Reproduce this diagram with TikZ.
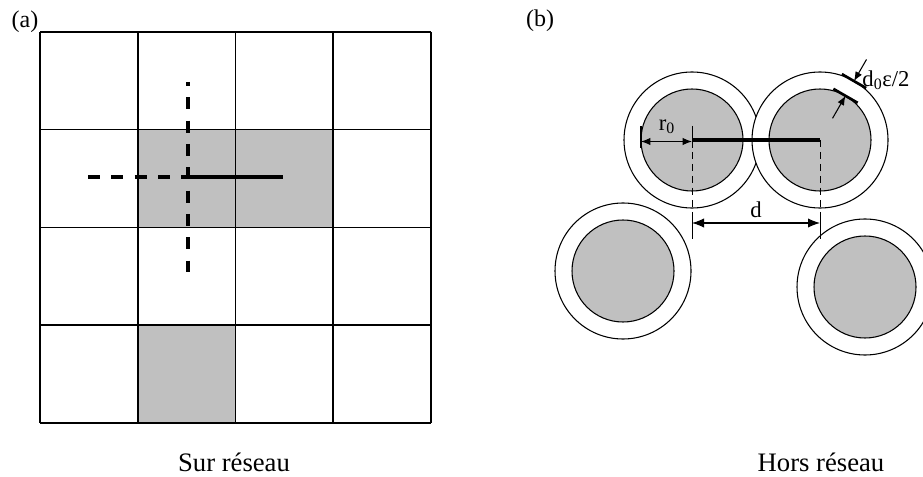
\documentclass[tikz,border=0pt]{standalone}
\usepackage{fontspec}
\setmainfont{Liberation Serif}
\usetikzlibrary{arrows.meta,calc}

\definecolor{cellgray}{RGB}{192,192,192}

\tikzset{
  gridline/.style={line width=1.2pt, black},
  dashguide/.style={line width=2.4pt, dash pattern=on 9pt off 8.5pt},
  bond/.style={line width=3.3pt},
  ring/.style={line width=0.8pt, fill=white},
  core/.style={line width=0.8pt, fill=cellgray},
  thinguide/.style={line width=0.7pt, dash pattern=on 5.5pt off 3.5pt},
  ext/.style={line width=0.7pt},
  dimarrow/.style={line width=0.8pt, {Latex[length=9pt,width=7pt]}-{Latex[length=9pt,width=7pt]}},
  smallarrow/.style={line width=0.8pt, {Latex[length=7pt,width=5.5pt]}-{Latex[length=7pt,width=5.5pt]}},
  radarrow/.style={line width=0.8pt, -{Latex[length=7pt,width=5.5pt]}},
  tick/.style={line width=2pt},
  lbl/.style={font=\fontsize{17}{19}\selectfont, inner sep=0pt},
  caption/.style={font=\fontsize{20}{23}\selectfont, inner sep=0pt},
  panel/.style={font=\fontsize{18}{21}\selectfont, inner sep=0pt}
}

\begin{document}
\begin{tikzpicture}[x=0.75pt, y=-0.75pt]
\useasboundingbox (0,0) rectangle (923,477);
\clip (0,0) rectangle (923,477);

% ---------- (a) lattice ----------
\fill[cellgray] (137.7,129.7) rectangle (333.1,227.4);
\fill[cellgray] (137.7,325.1) rectangle (235.4,422.8);
\foreach \i in {0,...,4} {
  \draw[gridline] ({40+97.7*\i},32) -- ({40+97.7*\i},422.8);
  \draw[gridline] (40,{32+97.7*\i}) -- (430.8,{32+97.7*\i});
}

\coordinate (site) at (188,177);
\coordinate (bondend) at (283,177);
\coordinate (hleft) at (88,177);
\coordinate (vtop) at (188,82);
\coordinate (vbot) at (188,272);

\draw[dashguide] (hleft) -- (site);
\draw[dashguide, dash phase=6pt] (vtop) -- (vbot);
\draw[bond] (site) -- (bondend);

\node[panel] (pa) at (25,22) {(a)};
\node[caption] (capa) at (234,462) {Sur réseau};

% ---------- (b) off-lattice ----------
\coordinate (A) at (692,140);
\coordinate (B) at (820,140);
\coordinate (C) at (623,271);
\coordinate (D) at (865,287);

\foreach \c in {A,B,C,D} \draw[ring] (\c) circle[radius=68];
\foreach \c in {A,B,C,D} \draw[core] (\c) circle[radius=51];

\draw[line width=3.5pt] (A) -- (B);

% extension lines for d
\coordinate (Adash) at (692,216);
\coordinate (Bdash) at (820,216);
\coordinate (Aext) at (692,239);
\coordinate (Bext) at (820,239);
\draw[thinguide] (A) -- (Adash);
\draw[thinguide] (B) -- (Bdash);
\draw[ext] (Adash) -- (Aext);
\draw[ext] (Bdash) -- (Bext);

\coordinate (dl) at (692,223);
\coordinate (dr) at (820,223);
\draw[dimarrow] (dl) -- (dr);
\node[lbl] (dlabel) at (756,210) {d};

% radius r0
\coordinate (rl) at (641,141.5);
\coordinate (rr) at (692,141.5);
\coordinate (rlt) at (641,126);
\coordinate (rlb) at (641,148);
\coordinate (rrt) at (692,126);
\coordinate (rrb) at (692,148);
\draw[line width=2pt] (rlt) -- (rlb);
\draw[ext] (rrt) -- (rrb);
\draw[smallarrow] (rl) -- (rr);
\node[lbl] (rlabel) at (667,127) {r\textsubscript{0}};

% shell thickness d0 eps/2
\coordinate (po) at ($(B)+(-60:68)$);
\coordinate (pi) at ($(B)+(-60:51)$);
\coordinate (pout) at ($(B)+(-60:93)$);
\coordinate (pin) at ($(B)+(-60:25)$);
\draw[tick] ($(po)+(210:14)$) -- ($(po)+(30:14)$);
\draw[tick] ($(pi)+(210:14)$) -- ($(pi)+(30:14)$);
\draw[radarrow] (pout) -- (po);
\draw[radarrow] (pin) -- (pi);
\node[lbl] (elabel) at (886,80) {d\textsubscript{0}ε/2};

\node[panel] (pb) at (540,21) {(b)};
\node[caption] (capb) at (821,462) {Hors réseau};
\end{tikzpicture}
\end{document}
